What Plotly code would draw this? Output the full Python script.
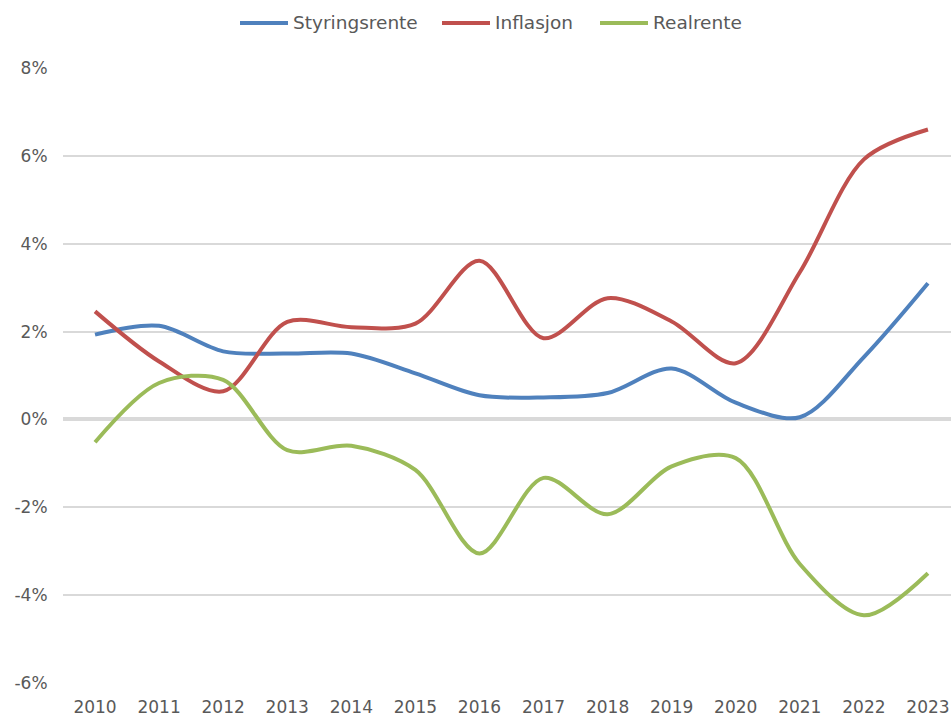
import plotly.graph_objects as go

# Annual averages, percent
years = list(range(2010, 2024))
styringsrente = [1.93, 2.13, 1.55, 1.50, 1.50, 1.05, 0.55, 0.50, 0.60, 1.16, 0.38, 0.05, 1.42, 3.10]
inflasjon = [2.46, 1.32, 0.64, 2.22, 2.10, 2.18, 3.61, 1.85, 2.76, 2.23, 1.28, 3.35, 5.92, 6.60]
realrente = [-0.52, 0.83, 0.90, -0.70, -0.60, -1.15, -3.05, -1.33, -2.16, -1.07, -0.88, -3.29, -4.46, -3.50]

y_tickvals = [-6, -4, -2, 0, 2, 4, 6, 8]
y_ticktext = ["-6%", "-4%", "-2%", "0%", "2%", "4%", "6%", "8%"]
x_ticktext = [str(y) for y in years]

series = [
    ("Styringsrente", styringsrente, "#4f81bd"),
    ("Inflasjon", inflasjon, "#c0504d"),
    ("Realrente", realrente, "#9bbb59"),
]

W, H = 951, 717
ML, MR, MT, MB = 63, 0, 68, 34
plot_w = W - ML - MR
plot_h = H - MT - MB

font_family = "DejaVu Sans"
grey = "#595959"

fig = go.Figure()
for name, values, color in series:
    fig.add_trace(go.Scatter(
        x=years, y=values, name=name, mode="lines", showlegend=False,
        line=dict(color=color, width=4, shape="spline", smoothing=0.9),
    ))

# Legend row above the plot: a short coloured stroke followed by the series name
legend_starts = [240, 442, 600]  # left edge of each stroke, px
legend_line_len = 48
legend_y_px = 23


def px_to_paper_x(px):
    return (px - ML) / plot_w


def px_to_paper_y(py):
    return (H - MB - py) / plot_h


shapes = []
annotations = []
for (name, _, color), x0 in zip(series, legend_starts):
    yy = px_to_paper_y(legend_y_px)
    shapes.append(dict(
        type="line", xref="paper", yref="paper",
        x0=px_to_paper_x(x0), x1=px_to_paper_x(x0 + legend_line_len),
        y0=yy, y1=yy, line=dict(color=color, width=4),
    ))
    annotations.append(dict(
        xref="paper", yref="paper", x=px_to_paper_x(x0 + legend_line_len + 3), y=yy,
        xanchor="left", yanchor="middle", showarrow=False, text=name,
        font=dict(family=font_family, size=18.5, color=grey),
    ))

fig.update_layout(
    width=W, height=H,
    margin=dict(l=ML, r=MR, t=MT, b=MB),
    paper_bgcolor="white", plot_bgcolor="white",
    font=dict(family=font_family, size=17, color=grey),
    shapes=shapes, annotations=annotations,
    xaxis=dict(
        range=[2009.5, 2023.36], tickvals=years, ticktext=x_ticktext,
        showgrid=False, zeroline=False, showline=False,
        ticks="outside", ticklen=9, tickcolor="rgba(0,0,0,0)",
        tickfont=dict(size=17, color=grey),
    ),
    yaxis=dict(
        range=[-6, 8], tickvals=y_tickvals, ticktext=y_ticktext,
        showgrid=True, gridcolor="#d9d9d9", gridwidth=1.5,
        zeroline=True, zerolinecolor="#d9d9d9", zerolinewidth=4,
        showline=False,
        ticks="outside", ticklen=11, tickcolor="rgba(0,0,0,0)",
        tickfont=dict(size=17, color=grey),
    ),
)

fig.write_html("out.html")
